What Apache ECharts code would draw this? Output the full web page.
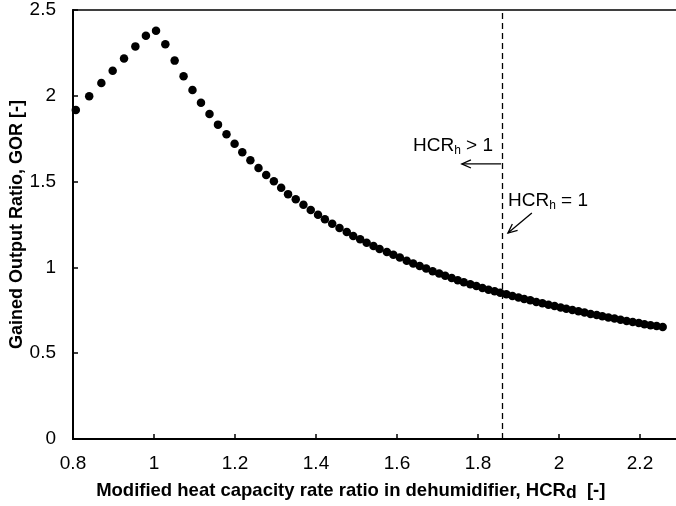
<!DOCTYPE html>
<html><head><meta charset="utf-8">
<script src="https://cdn.jsdelivr.net/npm/echarts@6/dist/echarts.min.js"></script>
<style>html,body{margin:0;padding:0;background:#fff}#c{width:676px;height:506px}</style>
</head><body><div id="c"></div>
<script>
// ---- data ----
const hcrD = [0.807,0.840,0.870,0.898,0.926,0.954,0.980,1.005,
  1.028,1.051,1.073,1.095,1.116,1.137,1.158,1.179,1.199,1.218,
  1.238,1.258,1.277,1.296,1.314,1.331,1.350,1.369,1.387,1.405,
  1.422,1.440,1.458,1.476,1.492,1.509,1.525,1.542,1.557,1.575,
  1.591,1.607,1.624,
  1.640,1.656,1.672,1.688,1.704,1.719,1.735,1.750,1.765,1.781,1.796,1.811,1.826,1.841,1.855,
  1.870,1.885,1.900,1.914,1.929,1.944,1.959,1.974,1.989,2.004,2.018,2.033,2.048,2.063,2.078,
  2.093,2.107,2.122,2.137,2.152,2.167,2.182,2.197,2.211,2.226,2.241,2.256];
const gor = [1.917,1.997,2.075,2.146,2.218,2.288,2.350,2.379,
  2.300,2.205,2.114,2.034,1.960,1.894,1.832,1.776,1.721,1.671,
  1.624,1.579,1.538,1.502,1.464,1.427,1.397,1.365,1.335,1.307,
  1.280,1.255,1.230,1.206,1.183,1.164,1.144,1.125,1.107,1.090,
  1.074,1.057,1.039,
  1.023,1.008,0.993,0.978,0.964,0.951,0.938,0.925,0.913,0.902,0.891,0.880,0.870,0.861,0.852,
  0.843,0.834,0.825,0.816,0.808,0.799,0.791,0.783,0.775,0.767,0.759,0.752,0.744,0.737,0.729,
  0.722,0.715,0.708,0.702,0.695,0.688,0.682,0.676,0.669,0.663,0.658,0.652];
const xRange = [0.8, 2.3];
const xStep = 0.2;
const xLastLabel = 2.2;
const yRange = [0, 2.5];
const yStep = 0.5;
const boundaryHCR = 1.857;   // HCR_h = 1 boundary
const xTitle = 'Modified heat capacity rate ratio in dehumidifier, HCR';
const xTitleSub = 'd';
const yTitle = 'Gained Output Ratio, GOR [-]';
// annotations (data coordinates)
const noteGT = {text: ['HCR', 'h', ' > 1'], at: [1.6395, 1.707], from: [1.857, 1.603], to: [1.760, 1.603]};
const noteEQ = {text: ['HCR', 'h', ' = 1'], at: [1.874, 1.387], from: [1.933, 1.317], to: [1.874, 1.200]};

const FONT = '"Liberation Sans", Arial, Helvetica, sans-serif';
const chart = echarts.init(document.getElementById('c'), null, {renderer: 'canvas'});
chart.setOption({
  animation: false,
  backgroundColor: '#fff',
  grid: {left: 73, right: -4.5, top: 10, bottom: 67, show: true, borderColor: '#000', borderWidth: 1.5,
    containLabel: false, outerBoundsMode: 'none'},
  xAxis: {
    type: 'value', min: xRange[0], max: xRange[1], interval: xStep,
    axisLine: {show: true, onZero: false, lineStyle: {color: '#000', width: 2}},
    axisTick: {show: true, inside: true, length: 5, lineStyle: {color: '#000', width: 1.5}},
    axisLabel: {color: '#000', fontSize: 19, fontFamily: FONT, margin: 15, showMaxLabel: false,
      formatter: v => (v > xLastLabel + 1e-6 ? '' : String(+v.toFixed(2)))},
    splitLine: {show: false},
    name: '{b|' + xTitle + '}{s|' + xTitleSub + '}{b|  [-]}',
    nameLocation: 'middle', nameGap: 41,
    nameTextStyle: {
      padding: [0, 52, 0, 0],
      rich: {
        b: {fontSize: 18.5, fontWeight: 'bold', fontFamily: FONT, color: '#000', lineHeight: 22},
        s: {fontSize: 17.5, fontWeight: 'bold', fontFamily: FONT, color: '#000', lineHeight: 22, padding: [5, 0, 0, 0]}
      }
    }
  },
  yAxis: {
    type: 'value', min: yRange[0], max: yRange[1], interval: yStep,
    axisLine: {show: true, lineStyle: {color: '#000', width: 2}},
    axisTick: {show: true, inside: true, length: 5, lineStyle: {color: '#000', width: 1.5}},
    axisLabel: {color: '#000', fontSize: 19, fontFamily: FONT, margin: 17},
    splitLine: {show: false},
    name: yTitle, nameLocation: 'middle', nameGap: 47, nameMoveOverlap: false,
    nameTextStyle: {fontSize: 18, fontWeight: 'bold', fontFamily: FONT, color: '#000'}
  },
  series: [{
    type: 'scatter',
    data: hcrD.map((x, i) => [x, gor[i]]),
    symbol: 'circle', symbolSize: 8.5,
    itemStyle: {color: '#000', opacity: 1},
    markLine: {
      silent: true, symbol: ['none', 'none'], label: {show: false},
      lineStyle: {color: '#000', type: [6, 4], width: 1.3},
      data: [{xAxis: boundaryHCR}]
    }
  }]
});

function px(pt) { return chart.convertToPixel({gridIndex: 0}, pt); }
function arrow(from, to) {
  const a = px(from), b = px(to);
  const ang = Math.atan2(b[1] - a[1], b[0] - a[0]);
  const L = 10, h = 0.42;
  const w1 = [b[0] - L * Math.cos(ang - h), b[1] - L * Math.sin(ang - h)];
  const w2 = [b[0] - L * Math.cos(ang + h), b[1] - L * Math.sin(ang + h)];
  return [
    {type: 'polyline', shape: {points: [a, b]}, style: {stroke: '#000', lineWidth: 1.3, fill: null}},
    {type: 'polyline', shape: {points: [w1, b, w2]}, style: {stroke: '#000', lineWidth: 1.3, fill: null}}
  ];
}
function note(n) {
  const p = px(n.at);
  return {
    type: 'text', x: p[0], y: p[1],
    style: {
      text: '{a|' + n.text[0] + '}{s|' + n.text[1] + '}{a|' + n.text[2] + '}',
      align: 'left', verticalAlign: 'middle',
      rich: {
        a: {fontSize: 19, fontFamily: FONT, fill: '#000', lineHeight: 22},
        s: {fontSize: 12, fontFamily: FONT, fill: '#000', lineHeight: 22, padding: [9, 0, 0, 0]}
      }
    }
  };
}
chart.setOption({
  graphic: [].concat(arrow(noteGT.from, noteGT.to), arrow(noteEQ.from, noteEQ.to), [note(noteGT), note(noteEQ)])
});
</script>
</body></html>
